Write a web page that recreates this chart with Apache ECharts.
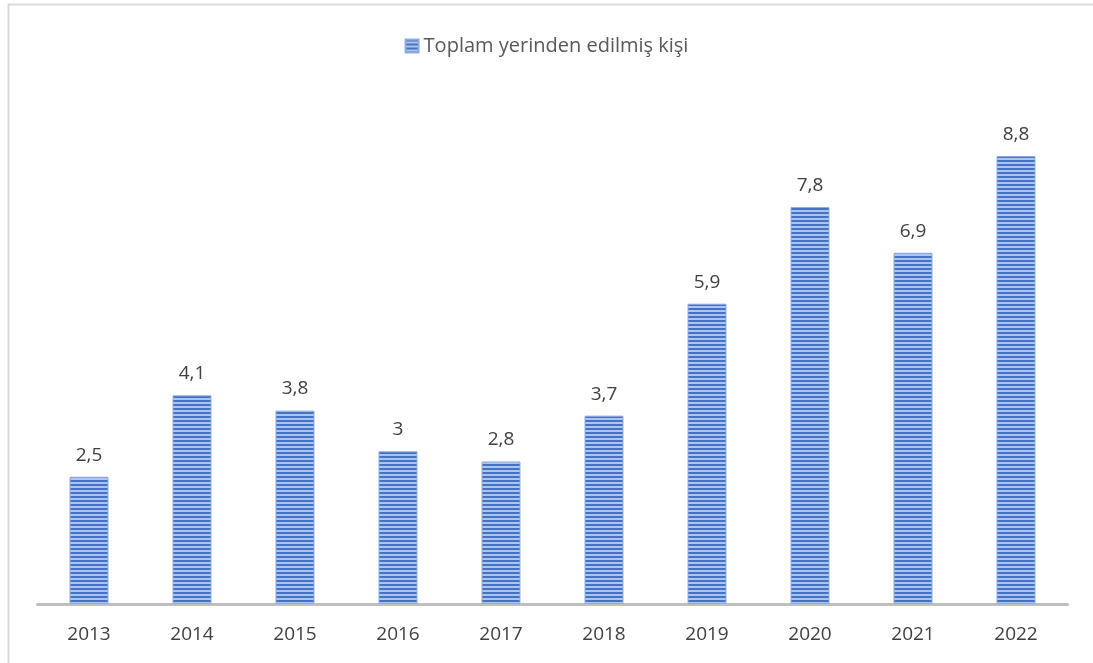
<!DOCTYPE html>
<html>
<head>
<meta charset="utf-8">
<script src="https://cdn.jsdelivr.net/npm/echarts@6/dist/echarts.min.js"></script>
<style>html,body{margin:0;padding:0;background:#fff}#c{width:1093px;height:663px}</style>
</head>
<body>
<div id="c"></div>
<script>
const categories = ['2013','2014','2015','2016','2017','2018','2019','2020','2021','2022'];
const values = [2.5, 4.1, 3.8, 3, 2.8, 3.7, 5.9, 7.8, 6.9, 8.8];
const labels = ['2,5','4,1','3,8','3','2,8','3,7','5,9','7,8','6,9','8,8'];
const seriesName = 'Toplam yerinden edilmiş kişi';

function makePattern() {
  const cv = document.createElement('canvas');
  cv.width = 4; cv.height = 4;
  const ctx = cv.getContext('2d');
  ctx.fillStyle = '#aec4ec';
  ctx.fillRect(0, 0, 4, 4);
  ctx.fillStyle = '#4472c4';
  ctx.fillRect(0, 0, 4, 2);
  return cv;
}
const pat = makePattern();

const chart = echarts.init(document.getElementById('c'));
chart.setOption({
  animation: false,
  graphic: [{
    type: 'rect', z: -1,
    shape: { x: 8.5, y: 4.5, width: 1100, height: 700 },
    style: { fill: 'none', stroke: '#d9d9d9', lineWidth: 2 }
  }],
  legend: {
    top: 31, left: 'center',
    itemWidth: 13, itemHeight: 13, itemGap: 4,
    textStyle: { fontSize: 20, color: '#595959', fontFamily: 'Open Sans' },
    data: [{ name: seriesName, icon: 'rect' }]
  },
  grid: { left: 37.5, right: 25.5, top: 95, bottom: 59, containLabel: false },
  xAxis: {
    type: 'category', data: categories,
    axisLine: { lineStyle: { color: '#bfbfbf', width: 3 } },
    axisTick: { show: false },
    axisLabel: { fontSize: 19, color: '#404040', margin: 21, fontFamily: 'Open Sans' }
  },
  yAxis: { type: 'value', min: 0, max: 10, show: false, splitLine: { show: false } },
  series: [{
    name: seriesName, type: 'bar', data: values, barWidth: 39,
    itemStyle: {
      color: { image: pat, repeat: 'repeat' },
      borderColor: '#8fabe0', borderWidth: 1
    },
    label: {
      show: true, position: 'top', distance: 12,
      fontSize: 19, color: '#404040', fontFamily: 'Open Sans',
      formatter: p => labels[p.dataIndex]
    }
  }]
});
</script>
</body>
</html>
